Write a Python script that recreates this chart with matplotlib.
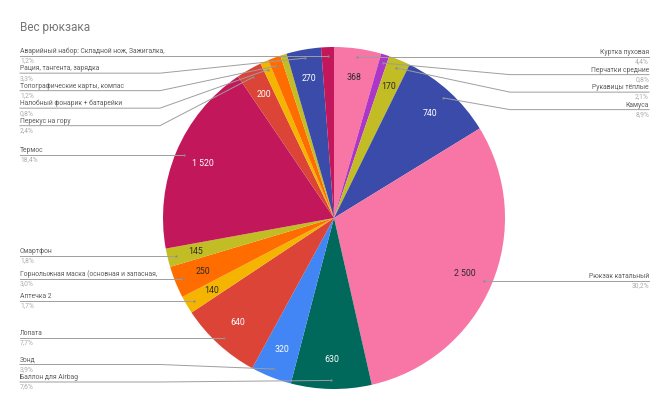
import numpy as np
import matplotlib
matplotlib.use("Agg")
import matplotlib.pyplot as plt

plt.rcParams['font.family'] = ['Roboto', 'DejaVu Sans']

# данные (по часовой стрелке от 12 часов)
names = ["Куртка пуховая", "Перчатки средние", "Рукавицы тёплые", "Камуса",
         "Рюкзак катальный", "Баллон для Airbag", "Зонд", "Лопата", "Аптечка 2",
         "Горнолыжная маска (основная и запасная,", "Смартфон", "Термос",
         "Перекус на гору", "Налобный фонарик + батарейки",
         "Топографические карты, компас", "", "Рация, тангента, зарядка",
         "Аварийный набор: Складной нож, Зажигалка,"]
weights = [368, 65, 170, 740, 2500, 630, 320, 640, 140, 250, 145, 1520,
           200, 65, 100, 50, 270, 100]
colors = ["#F876A6", "#AB36C8", "#C2BC25", "#3A4BAA", "#F876A6", "#00695C",
          "#4285F4", "#DB4437", "#F4B400", "#FF6D00", "#C2BC25", "#C2185B",
          "#DB4437", "#F4B400", "#FF6D00", "#C2BC25", "#3A4BAA", "#C2185B"]
dark_text = {"#F876A6", "#C2BC25", "#F4B400", "#FF6D00"}

total = sum(weights)
W, H = 670, 411
cx, cy, R = 334, 218, 171

fig = plt.figure(figsize=(W / 100, H / 100), dpi=100)
ax = fig.add_axes([0, 0, 1, 1])
wedges, _ = ax.pie(weights, colors=colors, center=(cx, cy), radius=R,
                   startangle=-90, counterclock=True,
                   wedgeprops=dict(linewidth=0))
ax.set_xlim(0, W)
ax.set_ylim(H, 0)
ax.set_aspect('equal')
ax.axis('off')

ax.text(20, 27, "Вес рюкзака", fontsize=8.5, color="#757575", va='center')

line_c = "#9E9E9E"
left, right = [], []
for i, w in enumerate(wedges):
    a = np.deg2rad((w.theta1 + w.theta2) / 2)
    # подписи значений внутри
    if weights[i] >= 140:
        tc = "#2B2B2B" if colors[i] in dark_text else "white"
        ax.text(cx + 0.83 * R * np.cos(a), cy + 0.83 * R * np.sin(a),
                f"{weights[i]:,}".replace(",", " "), fontsize=6.3,
                color=tc, ha='center', va='center')
    if not names[i]:
        continue
    dx, dy = cx + 0.95 * R * np.cos(a), cy + 0.95 * R * np.sin(a)
    (left if dx < cx else right).append([dy, dx, i])


def stack(items, gap=17.5, lo=50, hi=382):
    items.sort()
    ys = []
    for it in items:
        ys.append(it[0] if not ys else max(it[0], ys[-1] + gap))
    for k in range(len(ys) - 1, -1, -1):
        ys[k] = min(ys[k], hi if k == len(ys) - 1 else ys[k + 1] - gap)
    return ys


for side, items in (("L", left), ("R", right)):
    ys = stack(items)
    for (dy, dx, i), ly in zip(items, ys):
        tx = 20 if side == "L" else 649
        ex = 160 if side == "L" else 510
        if abs(ly - dy) < 1.5:
            ax.plot([tx, dx], [ly, ly], color=line_c, lw=0.7)
        else:
            ax.plot([tx, ex, dx], [ly, ly, dy], color=line_c, lw=0.7)
        ax.plot(dx, dy, 'o', ms=1.6, color="#8A8A8A", mew=0)
        ha = 'left' if side == "L" else 'right'
        pct = f"{100 * weights[i] / total:.1f}".replace(".", ",") + "%"
        ax.text(tx, ly - 1, names[i], fontsize=4.9, color="#5F5F5F",
                ha=ha, va='bottom')
        ax.text(tx, ly + 1.5, pct, fontsize=4.9, color="#ABABAB",
                ha=ha, va='top')

fig.savefig("out.png", dpi=100)
